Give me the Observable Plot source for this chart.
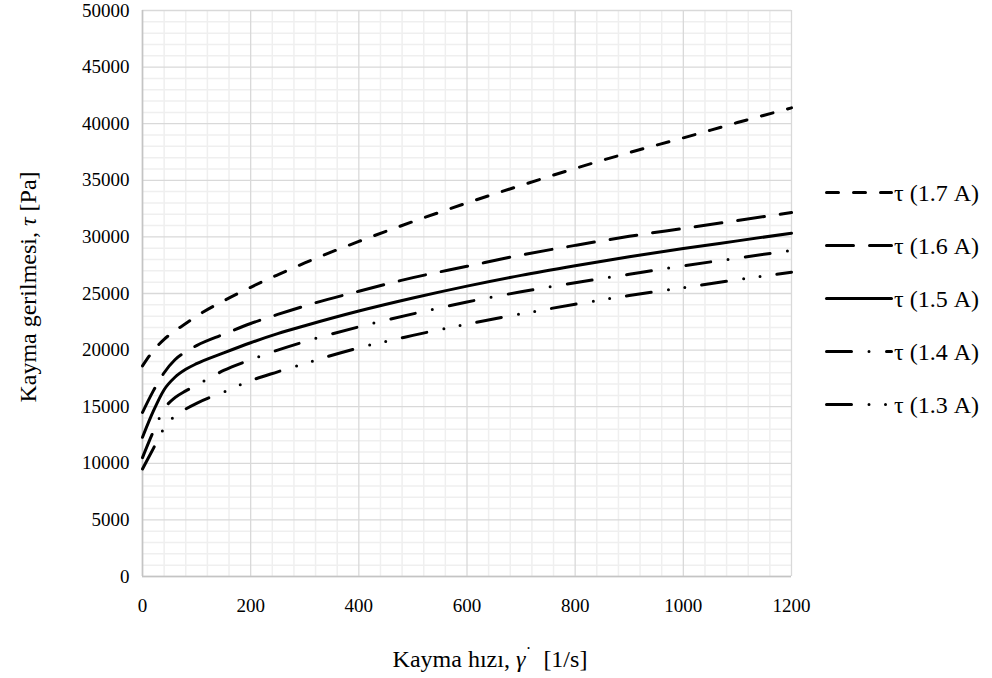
<!DOCTYPE html>
<html>
<head>
<meta charset="utf-8">
<script src="https://cdn.jsdelivr.net/npm/d3@7"></script>
<script src="https://cdn.jsdelivr.net/npm/@observablehq/plot@0.6"></script>
<style>
  body { margin: 0; background: #fff; }
  #chart { width: 992px; height: 678px; }
</style>
</head>
<body>
<div id="chart"></div>
<script>
// Shear rate (1/s) at which the shear stress of each current setting is given
const shearRate = [0, 20, 40, 60, 80, 100, 150, 200, 250, 300, 400, 500, 600, 700, 800, 900, 1000, 1100, 1200];

// Shear stress (Pa) per coil current
const tau17 = [18600, 19950, 20950, 21700, 22350, 23000, 24350, 25550, 26650, 27700, 29600, 31350, 33000, 34550, 36050, 37450, 38750, 40100, 41400];
const tau16 = [14500, 16400, 18000, 19150, 19850, 20400, 21400, 22350, 23150, 23900, 25200, 26400, 27400, 28400, 29250, 30050, 30750, 31450, 32150];
const tau15 = [12300, 14600, 16500, 17600, 18300, 18800, 19750, 20650, 21450, 22150, 23450, 24600, 25650, 26600, 27450, 28250, 28970, 29650, 30330];
const tau14 = [10500, 12800, 14800, 15800, 16400, 16900, 18200, 19150, 20000, 20750, 22050, 23200, 24250, 25150, 25950, 26700, 27440, 28130, 28800];
const tau13 = [9500, 11300, 13100, 14200, 14800, 15300, 16300, 17300, 18080, 18820, 20200, 21300, 22300, 23200, 24050, 24820, 25520, 26220, 26880];

const seriesNames = ["τ (1.7 A)", "τ (1.6 A)", "τ (1.5 A)", "τ (1.4 A)", "τ (1.3 A)"];
const seriesValues = [tau17, tau16, tau15, tau14, tau13];

// Axis ticks
const xTicks = [0, 200, 400, 600, 800, 1000, 1200];
const yTicks = [0, 5000, 10000, 15000, 20000, 25000, 30000, 35000, 40000, 45000, 50000];

// Line dash patterns (with round caps, zero-length dashes draw as dots)
const dashStyle = {
  "τ (1.7 A)": "12,15",
  "τ (1.6 A)": "27,16",
  "τ (1.5 A)": null,
  "τ (1.4 A)": "25,17.5,0,17.5",
  "τ (1.3 A)": "25,17.5,0,16.5,0,17"
};

const rows = seriesNames.flatMap((name, i) =>
  shearRate.map((r, j) => ({ series: name, rate: r, tau: seriesValues[i][j] }))
);

const minorX = d3.range(0, 1201, 40).filter(v => v % 200 !== 0);
const minorY = d3.range(0, 50001, 1000).filter(v => v % 5000 !== 0);

const font = "'Liberation Serif', 'Times New Roman', serif";
const titleSize = 24;

const lineMarks = seriesNames.map(name =>
  Plot.line(rows.filter(d => d.series === name), {
    x: "rate", y: "tau",
    stroke: "#000", strokeWidth: 3,
    strokeDasharray: dashStyle[name] || undefined,
    strokeLinecap: "round", strokeLinejoin: "round",
    curve: "monotone-x"
  })
);

const chart = Plot.plot({
  width: 992,
  height: 678,
  marginLeft: 142,
  marginRight: 201,
  marginTop: 10,
  marginBottom: 102,
  style: { fontFamily: font, fontSize: "19px", color: "#000", background: "#fff" },
  x: { domain: [0, 1200] },
  y: { domain: [0, 50000] },
  marks: [
    Plot.ruleX(minorX, { stroke: "#efefef", strokeWidth: 1.5 }),
    Plot.ruleY(minorY, { stroke: "#efefef", strokeWidth: 1.5 }),
    Plot.ruleX(xTicks, { stroke: "#d9d9d9", strokeWidth: 1.3 }),
    Plot.ruleY(yTicks, { stroke: "#d9d9d9", strokeWidth: 1.3 }),
    Plot.ruleX([0], { stroke: "#c4c4c4", strokeWidth: 1.6 }),
    Plot.ruleY([0], { stroke: "#c4c4c4", strokeWidth: 1.6 }),
    ...lineMarks,
    Plot.axisX({ ticks: xTicks, tickSize: 0, tickPadding: 22, tickFormat: d3.format("d"), label: null, fill: "#000" }),
    Plot.axisY({ ticks: yTicks, tickSize: 0, tickPadding: 13, tickFormat: d3.format("d"), label: null, fill: "#000" })
  ]
});

document.getElementById("chart").appendChild(chart);

const svg = d3.select(chart);

// X axis title
const xt = svg.append("text")
  .attr("x", 490).attr("y", 667)
  .attr("text-anchor", "middle")
  .attr("font-family", font).attr("font-size", titleSize).attr("fill", "#000");
xt.append("tspan").text("Kayma hızı, ");
xt.append("tspan").attr("font-style", "italic").text("γ");
xt.append("tspan").attr("dy", -7).attr("font-size", 18).text("˙");
xt.append("tspan").attr("dy", 7).text("\u00a0\u00a0[1/s]");

// Y axis title
const yt = svg.append("text")
  .attr("transform", "translate(36,287) rotate(-90)")
  .attr("text-anchor", "middle")
  .attr("font-family", font).attr("font-size", titleSize).attr("fill", "#000");
yt.append("tspan").text("Kayma gerilmesi, ");
yt.append("tspan").attr("font-style", "italic").text("τ");
yt.append("tspan").text(" [Pa]");

// Legend on the right
const legend = svg.append("g")
  .attr("font-family", font).attr("font-size", titleSize)
  .attr("text-anchor", "start");
seriesNames.forEach((name, i) => {
  const y = 192.5 + i * 53;
  legend.append("line")
    .attr("x1", 826.5).attr("x2", 891.5).attr("y1", y).attr("y2", y)
    .attr("stroke", "#000").attr("stroke-width", 3)
    .attr("stroke-linecap", "round")
    .attr("stroke-dasharray", dashStyle[name]);
  legend.append("text")
    .attr("x", 894).attr("y", y).attr("dy", "0.35em")
    .attr("fill", "#000").text(name);
});
</script>
</body>
</html>
